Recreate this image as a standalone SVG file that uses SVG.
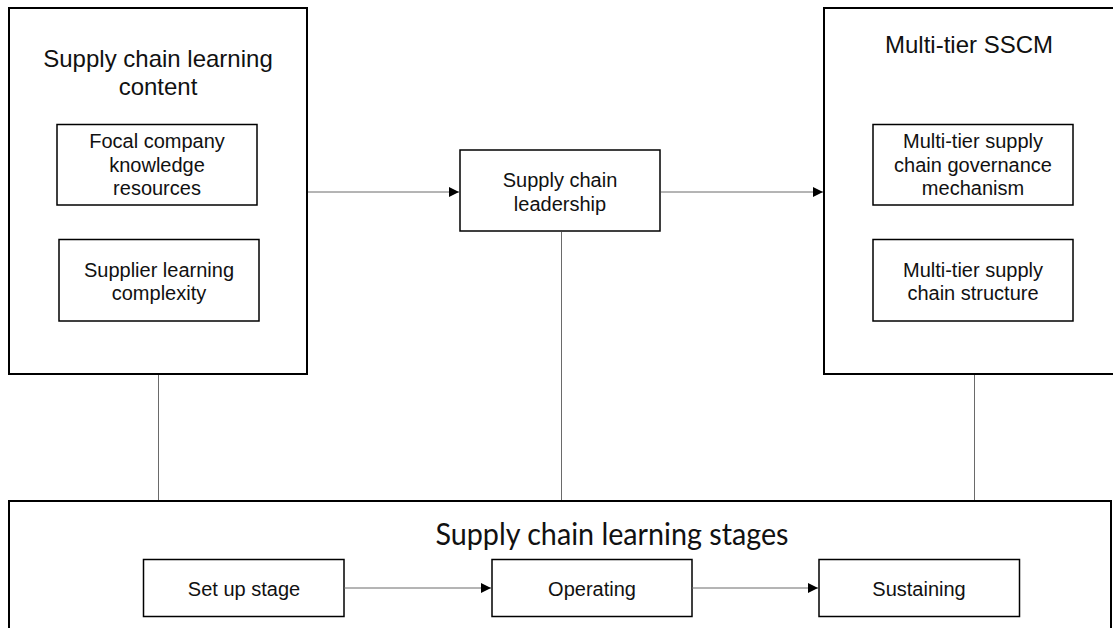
<svg xmlns="http://www.w3.org/2000/svg" width="1113" height="628" viewBox="0 0 1113 628">
<defs>
<marker id="arr" markerUnits="userSpaceOnUse" markerWidth="10" markerHeight="10" refX="10" refY="5" orient="auto">
<path d="M0,0 L10,5 L0,10 z" fill="#000"/>
</marker>
<style>
.big{fill:#fff;stroke:#000;stroke-width:2}
.box{fill:#fff;stroke:#000;stroke-width:1.5}
.ln{stroke:#6a6a6a;stroke-width:1;fill:none}
.t{font-family:"Liberation Sans",Arial,sans-serif;font-size:20px;fill:#111;text-anchor:middle}
.tt{font-family:"Liberation Sans",Arial,sans-serif;font-size:24px;fill:#111;text-anchor:middle}
.tc{font-family:Lato,"Open Sans",sans-serif;font-size:30px;fill:#111;text-anchor:middle}
</style>
</defs>
<rect width="1113" height="628" fill="#fff"/>
<g id="content">
<rect class="big" x="9" y="8" width="298" height="366"/>
<text class="tt" x="158" y="67">Supply chain learning</text>
<text class="tt" x="158" y="95">content</text>
</g>
<g id="focal">
<rect class="box" x="57" y="124.5" width="200" height="80.5"/>
<text class="t" x="157" y="148">Focal company</text>
<text class="t" x="157" y="172">knowledge</text>
<text class="t" x="157" y="195">resources</text>
</g>
<g id="supplier">
<rect class="box" x="59" y="239.5" width="200" height="81.5"/>
<text class="t" x="159" y="277">Supplier learning</text>
<text class="t" x="159" y="300">complexity</text>
</g>
<g id="leadership">
<rect class="box" x="460" y="150" width="200" height="81"/>
<text class="t" x="560" y="187">Supply chain</text>
<text class="t" x="560" y="211">leadership</text>
</g>
<g id="sscm">
<rect class="big" x="824" y="8" width="300" height="366"/>
<text class="tt" x="969" y="53">Multi-tier SSCM</text>
</g>
<g id="governance">
<rect class="box" x="873" y="124.5" width="200" height="80.5"/>
<text class="t" x="973" y="148">Multi-tier supply</text>
<text class="t" x="973" y="172">chain governance</text>
<text class="t" x="973" y="195">mechanism</text>
</g>
<g id="structure">
<rect class="box" x="873" y="239.5" width="200" height="81.5"/>
<text class="t" x="973" y="277">Multi-tier supply</text>
<text class="t" x="973" y="300">chain structure</text>
</g>
<g id="stages">
<rect class="big" x="9" y="501" width="1102" height="140"/>
<text class="tc" x="612" y="545" textLength="353" lengthAdjust="spacingAndGlyphs">Supply chain learning stages</text>
</g>
<g id="setup">
<rect class="box" x="143.5" y="559.5" width="200.5" height="57"/>
<text class="t" x="244" y="596">Set up stage</text>
</g>
<g id="operating">
<rect class="box" x="492" y="559.5" width="200" height="57"/>
<text class="t" x="592" y="596">Operating</text>
</g>
<g id="sustaining">
<rect class="box" x="819" y="559.5" width="200.5" height="57"/>
<text class="t" x="919" y="596">Sustaining</text>
</g>
<g id="connectors">
<line class="ln" x1="308" y1="192" x2="459" y2="192" marker-end="url(#arr)"/>
<line class="ln" x1="661" y1="192" x2="823" y2="192" marker-end="url(#arr)"/>
<line class="ln" x1="344" y1="588" x2="491" y2="588" marker-end="url(#arr)"/>
<line class="ln" x1="692" y1="588" x2="818" y2="588" marker-end="url(#arr)"/>
<line class="ln" x1="158.5" y1="375" x2="158.5" y2="500"/>
<line class="ln" x1="561.5" y1="232" x2="561.5" y2="500"/>
<line class="ln" x1="974.5" y1="375" x2="974.5" y2="500"/>
</g>
</svg>
